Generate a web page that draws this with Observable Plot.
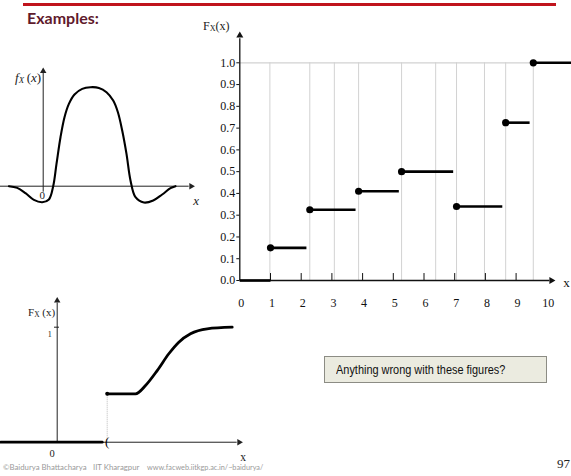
<!DOCTYPE html>
<html><head><meta charset="utf-8">
<script src="https://cdn.jsdelivr.net/npm/d3@7"></script>
<script src="https://cdn.jsdelivr.net/npm/@observablehq/plot@0.6"></script>
<style>
body{margin:0;background:#fff;}
#page{position:relative;width:571px;height:476px;overflow:hidden;background:#fff;font-family:"Liberation Serif",serif;}
.abs{position:absolute;white-space:nowrap;line-height:1;}
.plot{position:absolute;}
sub{font-size:0.68em;vertical-align:-0.15em;line-height:0;}
</style></head><body><div id="page"></div>
<script>
// ---- main step CDF chart ----
const stepStart = [0, 1, 2.28, 3.87, 5.27, 7.06, 8.66, 9.56];
const stepEnd   = [1, 2.17, 3.77, 5.18, 6.95, 8.55, 9.44, 10.9];
const stepValue = [0, 0.15, 0.325, 0.41, 0.5, 0.34, 0.725, 1.0];
const gridX = [0.98, 2.28, 3.08, 3.87, 5.27, 6.38, 7.06, 7.97, 8.66, 9.56];
const xTicks = [0, 1, 2, 3, 4, 5, 6, 7, 8, 9, 10];
const yTicks = [0, 0.1, 0.2, 0.3, 0.4, 0.5, 0.6, 0.7, 0.8, 0.9, 1.0];

// ---- top-left density sketch ----
const pdfX = [-3.43,-2.6,-1.77,-0.93,-0.1,0.57,1.0,1.33,1.73,2.13,2.57,3.13,3.9,4.73,5.57,6.33,7.0,7.47,7.9,8.33,8.73,9.23,10.07,11.0,11.9,12.73,13.23];
const pdfY = [0,-0.17,-0.7,-1.37,-1.6,-1.33,0,2.23,4.9,6.9,8.23,9.17,9.73,9.9,9.83,9.4,8.57,7.4,5.57,3.23,0.57,-1.1,-1.63,-1.43,-0.83,-0.2,0];

// ---- bottom-left mixed CDF sketch ----
const mixLowX = [-5.67, 4.5];
const mixLowY = [0, 0];
const mixX = [5.0, 7.83, 8.83, 10.0, 11.16, 12.16, 13.33, 15.0, 17.5];
const mixY = [0.421, 0.421, 0.493, 0.623, 0.769, 0.87, 0.943, 0.986, 1.0];

const page = document.getElementById("page");
function place(el, left, top){ el.classList.add("plot"); el.style.left = left+"px"; el.style.top = top+"px"; page.appendChild(el); }
function html(s, css){ const d = document.createElement("div"); d.className="abs"; d.innerHTML = s; d.style.cssText += css; page.appendChild(d); return d; }

const serif = "Liberation Serif";
const style = {background:"transparent", overflow:"visible"};

// main chart
const steps = stepStart.map((s,i)=>({x1:s, x2:stepEnd[i], y:stepValue[i], i}));
const main = Plot.plot({
  width: 381, height: 300,
  marginLeft: 49.3, marginRight: 24.7, marginTop: 42.3, marginBottom: 40,
  x: {domain:[0,10], axis:null},
  y: {domain:[0,1], axis:null},
  style,
  marks: [
    Plot.ruleX(gridX, {y1:0, y2:1, stroke:"#d2d2d2", strokeWidth:1}),
    Plot.ruleY([1], {x1:0, x2:10.9, stroke:"#d2d2d2", strokeWidth:1.2}),
    Plot.ruleY([0], {x1:0, x2:10.1, stroke:"#111", strokeWidth:1.3}),
    Plot.dot([10.15], {x:d=>d, y:0, symbol:"triangle", r:2.6, rotate:90, fill:"#111", stroke:"none"}),
    Plot.ruleX([0], {y1:0, y2:1.11, stroke:"#111", strokeWidth:1.3}),
    Plot.dot([1.125], {x:0, y:d=>d, symbol:"triangle", r:2.6, fill:"#111", stroke:"none"}),
    Plot.ruleX(xTicks.slice(1,10), {y1:0, y2:0.032, stroke:"#111", strokeWidth:1}),
    Plot.axisY(yTicks, {tickFormat:d=>d.toFixed(1), tickSize:3, tickPadding:1.5, fontSize:12, fontFamily:serif, label:null, stroke:"#111", fill:"#111"}),
    Plot.text(xTicks, {x:d=>d, y:0, dy:23, dx:1.5, text:d=>String(d), fontSize:12, fontFamily:serif, fill:"#111"}),
    Plot.text(["x"], {x:10.64, y:0, dy:2, text:d=>d, fontSize:13, fontFamily:serif, fill:"#111"}),
    Plot.link(steps, {x1:"x1", x2:"x2", y1:"y", y2:"y", stroke:"#000", strokeWidth:2.6}),
    Plot.dot(steps.filter(d=>d.i>0), {x:"x1", y:"y", r:3.6, fill:"#000", stroke:"none"})
  ]
});
place(main, 190, 20);
html("F<sub>X</sub>(x)", "left:203px;top:20px;font-size:12px;font-family:'Liberation Serif';color:#222;");

// top-left pdf
const pdf = pdfX.map((x,i)=>({x, y:pdfY[i]}));
const p1 = Plot.plot({
  width: 210, height: 170,
  marginLeft:0, marginRight:0, marginTop:0, marginBottom:0,
  x:{domain:[-4.27,16.73], axis:null},
  y:{domain:[-3.43,13.57], axis:null},
  style,
  marks:[
    Plot.ruleY([0], {x1:-4.27, x2:14.6, stroke:"#222", strokeWidth:1}),
    Plot.dot([14.8], {x:d=>d, y:0, symbol:"triangle", r:2.4, rotate:90, fill:"#222", stroke:"none"}),
    Plot.ruleX([0], {y1:-0.6, y2:11.3, stroke:"#222", strokeWidth:1}),
    Plot.dot([11.5], {x:0, y:d=>d, symbol:"triangle", r:2.4, fill:"#222", stroke:"none"}),
    Plot.line(pdf, {x:"x", y:"y", curve:"catmull-rom", stroke:"#000", strokeWidth:2.1}),
    Plot.text(["0"], {x:-0.1, y:-0.9, text:d=>d, fontSize:11, fontFamily:serif, fill:"#222"}),
    Plot.text(["x"], {x:15.3, y:-1.45, text:d=>d, fontSize:13, fontStyle:"italic", fontFamily:serif, fill:"#222"})
  ]
});
place(p1, 0, 50);
html("<i>f</i><sub><i>X</i></sub>&thinsp;(<i>x</i>)", "left:15px;top:71px;font-size:13px;font-family:'Liberation Serif';color:#222;");

// bottom-left mixed cdf
const mixLow = mixLowX.map((x,i)=>({x, y:mixLowY[i]}));
const mix = mixX.map((x,i)=>({x, y:mixY[i]}));
const p2 = Plot.plot({
  width: 250, height: 186,
  marginLeft:0, marginRight:0, marginTop:0, marginBottom:0,
  x:{domain:[-5.67,19.33], axis:null},
  y:{domain:[-0.298,1.319], axis:null},
  style,
  marks:[
    Plot.ruleY([0], {x1:-5.67, x2:18.0, stroke:"#222", strokeWidth:1}),
    Plot.dot([18.2], {x:d=>d, y:0, symbol:"triangle", r:2.4, rotate:90, fill:"#222", stroke:"none"}),
    Plot.ruleX([0], {y1:0, y2:1.21, stroke:"#222", strokeWidth:1}),
    Plot.dot([1.23], {x:0, y:d=>d, symbol:"triangle", r:2.4, fill:"#222", stroke:"none"}),
    Plot.ruleY([1], {x1:-0.27, x2:0.23, stroke:"#222", strokeWidth:1}),
    Plot.ruleX([mixX[0]], {y1:0, y2:mixY[0], stroke:"#aaa", strokeWidth:0.8, strokeDasharray:"1,1"}),
    Plot.line(mixLow, {x:"x", y:"y", stroke:"#000", strokeWidth:2.8}),
    Plot.text(["("], {x:mixX[0], y:0, text:d=>d, fontSize:13, fontFamily:serif, fill:"#000", dy:-0.5}),
    Plot.line(mix, {x:"x", y:"y", curve:"monotone-x", stroke:"#000", strokeWidth:2.8}),
    Plot.dot([mix[0]], {x:"x", y:"y", r:2, fill:"#000", stroke:"none"}),
    Plot.text(["1"], {x:-0.74, y:0.94, text:d=>d, fontSize:8, fontFamily:serif, fill:"#222"}),
    Plot.text(["0"], {x:-0.5, y:-0.098, text:d=>d, fontSize:10.5, fontFamily:serif, fill:"#222"}),
    Plot.text(["x"], {x:18.6, y:-0.13, text:d=>d, fontSize:11.5, fontFamily:serif, fill:"#222"})
  ]
});
place(p2, 0, 290);
html("F<sub>X</sub>&nbsp;(x)", "left:28px;top:307px;font-size:11px;font-family:'Liberation Serif';color:#222;");

// slide decorations
html("", "left:23px;top:3px;width:533px;height:3px;background:#c0141d;");
html("Examples:", "left:27px;top:10px;font-size:16px;font-weight:700;font-family:Lato;color:#5f1a2c;");
html('<span style="display:inline-block;transform:scaleX(0.84);transform-origin:left center;">Anything wrong with these figures?</span>',
  "left:324px;top:356px;width:221px;height:25px;background:#ebebe0;border:1px solid #8c8c84;font-family:'Liberation Sans';font-size:13px;color:#111;padding:0;line-height:25px;box-sizing:content-box;text-indent:6px;");
html("©Baidurya Bhattacharya", "left:3px;top:464px;font-size:7.8px;font-family:Lato;color:#9a9a9a;");
html("IIT Kharagpur", "left:93px;top:464px;font-size:7.8px;font-family:Lato;color:#9a9a9a;");
html("www.facweb.iitkgp.ac.in/~baidurya/", "left:147px;top:464px;font-size:7.3px;font-family:Lato;color:#9a9a9a;");
html("97", "left:557px;top:457px;font-size:13px;font-family:'Liberation Serif';color:#222;");
</script></body></html>
